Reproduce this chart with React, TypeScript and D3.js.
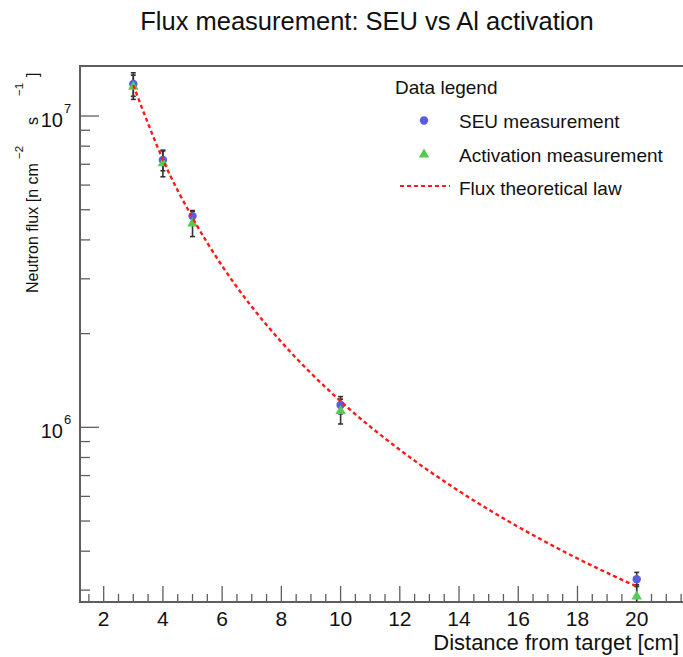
import React from "react";
import * as d3 from "d3";

// Measurement positions (cm from target)
const distances = [3, 4, 5, 10, 20];

// SEU-based flux measurement and its uncertainty (n cm^-2 s^-1)
const seuFlux = [1.267e7, 7.22e6, 4.77e6, 1.18e6, 3.25e5];
const seuErr = [1.1e6, 5.5e5, 2.0e5, 7.5e4, 1.7e4];

// Al activation flux measurement and its uncertainty
const actFlux = [1.242e7, 7.05e6, 4.52e6, 1.128e6, 2.86e5];
const actErr = [1.11e6, 6.7e5, 4.2e5, 1.03e5, 2.6e4];

// Theoretical flux law sampled along the distance range
const lawX = [3, 3.5, 4, 5, 6, 7, 8, 10, 12, 14, 16, 18, 20];
const lawFlux = [
  1.257e7, 9.45e6, 7.24e6, 4.71e6, 3.3e6, 2.44e6, 1.88e6, 1.213e6, 8.47e5,
  6.24e5, 4.79e5, 3.79e5, 3.08e5,
];

const xMajorTicks = [2, 4, 6, 8, 10, 12, 14, 16, 18, 20];
const yMajorTicks = [1e6, 1e7];
const yMajorExp = ["6", "7"];

const legendItems = ["SEU measurement", "Activation measurement", "Flux theoretical law"];

const W = 683;
const H = 657;
const FONT = "'Liberation Sans', Arial, Helvetica, sans-serif";
const AXIS = "#5e5e5e";
const BLUE = "#5a5ae2";
const GREEN = "#52cc52";
const RED = "#ff1a1a";

const left = 80;
const top = 66;
const bottom = 602;
const right = 690;

export default function App() {
  const x = d3.scaleLinear().domain([1.2, 21.8]).range([left, right]);
  const y = d3.scaleLog().domain([2.747e5, 1.4478e7]).range([bottom, top]);

  const xMinor = d3.range(1.5, 21.8, 0.5).filter((v) => Math.abs(v / 2 - Math.round(v / 2)) > 1e-6);
  const yMinor: number[] = [];
  for (const dec of [1e5, 1e6, 1e7]) {
    for (let k = 2; k <= 9; k++) {
      const v = k * dec;
      if (v > y.domain()[0] && v < y.domain()[1]) yMinor.push(v);
    }
  }

  const lawLine = d3
    .line<number>()
    .x((_, i) => x(lawX[i]))
    .y((d) => y(d))
    .curve(d3.curveMonotoneX)(lawFlux) as string;

  const tri = d3.symbol().type(d3.symbolTriangle).size(48)() as string;

  const errBar = (xv: number, v: number, e: number, key: string) => {
    const px = x(xv);
    const y1 = y(v + e);
    const y2 = y(Math.max(v - e, 1));
    return (
      <g key={key} stroke="#333" strokeWidth={1.6}>
        <line x1={px} x2={px} y1={y1} y2={y2} />
        <line x1={px - 2.5} x2={px + 2.5} y1={y1} y2={y1} />
        <line x1={px - 2.5} x2={px + 2.5} y1={y2} y2={y2} />
      </g>
    );
  };

  return (
    <div style={{ position: "absolute", left: 0, top: 0 }}>
      <svg width={W} height={H} style={{ display: "block", background: "#fff" }} fontFamily={FONT}>
        <defs>
          <clipPath id="plotArea">
            <rect x={left} y={top} width={right - left} height={bottom - top} />
          </clipPath>
        </defs>
        <rect width={W} height={H} fill="#fff" />

        {/* Title */}
        <text x={367} y={30} fontSize={25.5} textAnchor="middle" fill="#111">
          Flux measurement: SEU vs Al activation
        </text>

        {/* Frame */}
        <line x1={left} x2={W} y1={top} y2={top} stroke={AXIS} strokeWidth={2} />
        <line x1={left} x2={left} y1={top - 1} y2={bottom + 1} stroke={AXIS} strokeWidth={2} />
        <line x1={left - 1} x2={W} y1={bottom} y2={bottom} stroke={AXIS} strokeWidth={2} />

        {/* X ticks */}
        {xMinor.map((v) => (
          <line key={"xm" + v} x1={x(v)} x2={x(v)} y1={bottom} y2={bottom - 8} stroke={AXIS} strokeWidth={1.3} />
        ))}
        {xMajorTicks.map((v) => (
          <g key={"xM" + v}>
            <line x1={x(v)} x2={x(v)} y1={bottom} y2={bottom - 16} stroke={AXIS} strokeWidth={1.3} />
            <text x={x(v)} y={626} fontSize={21} textAnchor="middle" fill="#111">
              {v}
            </text>
          </g>
        ))}
        <text x={679} y={650} fontSize={22} textAnchor="end" fill="#111">
          Distance from target [cm]
        </text>

        {/* Y ticks */}
        {yMinor.map((v) => (
          <line key={"ym" + v} x1={left} x2={left + 10} y1={y(v)} y2={y(v)} stroke={AXIS} strokeWidth={1.3} />
        ))}
        {yMajorTicks.map((v, i) => (
          <g key={"yM" + v}>
            <line x1={left} x2={left + 19} y1={y(v)} y2={y(v)} stroke={AXIS} strokeWidth={1.3} />
            <text x={63} y={y(v) + 10.5} fontSize={20} textAnchor="end" fill="#111">
              10
            </text>
            <text x={64} y={y(v) - 3} fontSize={13} textAnchor="start" fill="#111">
              {yMajorExp[i]}
            </text>
          </g>
        ))}

        {/* Y axis title */}
        <g transform="translate(38,293) rotate(-90)" fill="#111" fontSize={16}>
          <text x={0} y={0}>Neutron flux [n cm</text>
          <text x={134} y={-15} fontSize={11.5}>−2</text>
          <text x={168} y={0}>s</text>
          <text x={197} y={-15} fontSize={11.5}>−1</text>
          <text x={216} y={0}>]</text>
        </g>

        {/* Error bars */}
        <g clipPath="url(#plotArea)">
          {distances.map((d, i) => errBar(d, actFlux[i], actErr[i], "ea" + i))}
          {distances.map((d, i) => errBar(d, seuFlux[i], seuErr[i], "es" + i))}
        </g>

        {/* Markers */}
        {distances.map((d, i) => (
          <circle key={"s" + i} cx={x(d)} cy={y(seuFlux[i])} r={4.2} fill={BLUE} />
        ))}
        {distances.map((d, i) => (
          <path key={"a" + i} d={tri} transform={`translate(${x(d)},${y(actFlux[i])})`} fill={GREEN} />
        ))}

        {/* Theoretical law */}
        <path
          d={lawLine}
          fill="none"
          stroke={RED}
          strokeWidth={2.4}
          strokeDasharray="4,3"
          clipPath="url(#plotArea)"
        />

        {/* Legend */}
        <g fill="#111" fontSize={19}>
          <text x={395} y={94}>Data legend</text>
          <circle cx={424} cy={120.5} r={4.2} fill={BLUE} />
          <text x={459} y={128}>{legendItems[0]}</text>
          <path d={tri} transform="translate(424,154.5)" fill={GREEN} />
          <text x={459} y={161.5}>{legendItems[1]}</text>
          <line x1={400} x2={450} y1={186} y2={186} stroke={RED} strokeWidth={2.2} strokeDasharray="4,3" />
          <text x={459} y={195}>{legendItems[2]}</text>
        </g>
      </svg>
    </div>
  );
}
